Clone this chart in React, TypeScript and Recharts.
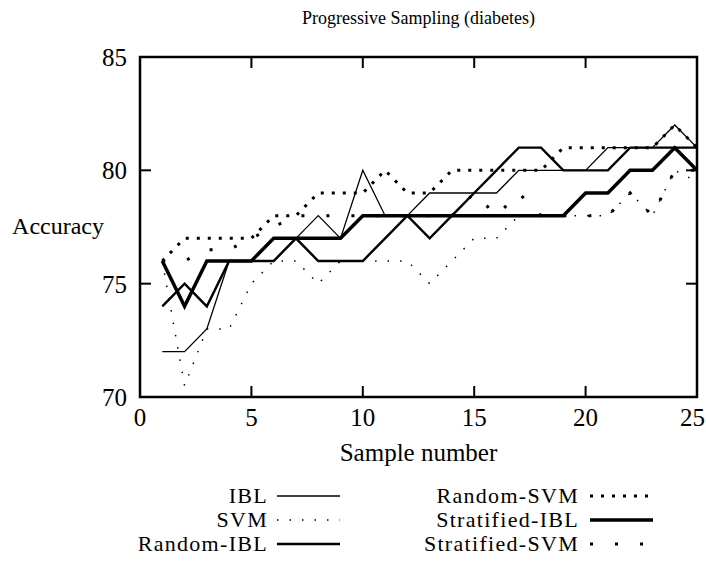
import React from 'react';
import { LineChart, Line, XAxis, YAxis, ReferenceArea, ReferenceLine, Legend } from 'recharts';

// ---- data ----
const sampleNumbers = [1, 2, 3, 4, 5, 6, 7, 8, 9, 10, 11, 12, 13, 14, 15, 16, 17, 18, 19, 20, 21, 22, 23, 24, 25];
const ibl = [72, 72, 73, 76, 76, 76, 77, 78, 77, 80, 78, 78, 79, 79, 79, 79, 80, 80, 80, 80, 81, 81, 81, 82, 81];
const svm = [76, 70.5, 73, 73, 75, 76, 76, 75, 76, 76, 76, 76, 75, 76, 77, 77, 78, 78, 78, 78, 78, 79, 78, 80, 79.5];
const randomIbl = [74, 75, 74, 76, 76, 76, 77, 76, 76, 76, 77, 78, 77, 78, 79, 80, 81, 81, 80, 80, 80, 81, 81, 81, 81];
const randomSvm = [76, 77, 77, 77, 77, 78, 78, 79, 79, 79, 80, 79, 79, 80, 80, 80, 80, 80, 81, 81, 81, 81, 81, 82, 81];
const stratifiedIbl = [76, 74, 76, 76, 76, 77, 77, 77, 77, 78, 78, 78, 78, 78, 78, 78, 78, 78, 78, 79, 79, 80, 80, 81, 80];
const stratifiedSvm = [76, 76, 76.5, 76.5, 77, 77.5, 78, 78, 78, 78, 78, 78, 78, 78, 79, 78, 79, 78, 78, 78, 78, 79, 78, 80, 80];

const xTicks = [0, 5, 10, 15, 20, 25];
const yTicks = [70, 75, 80, 85];
const xDomain: [number, number] = [0, 25];
const yDomain: [number, number] = [70, 85];

const title = 'Progressive Sampling (diabetes)';
const xLabel = 'Sample number';
const yLabel = 'Accuracy';

// ---- layout / styles ----
const W = 706;
const H = 562;
const X_AXIS_H = 30;
const Y_AXIS_W = 40;
const plotLeft = 140;
const plotTop = 57;
const plotRight = 697;
const plotBottom = 397;
const M = { top: plotTop, right: W - plotRight, bottom: H - plotBottom - X_AXIS_H, left: plotLeft - Y_AXIS_W };
const plotW = plotRight - plotLeft;
const plotH = plotBottom - plotTop;
const TICK_PX = 11;
const tickDx = (TICK_PX * (xDomain[1] - xDomain[0])) / plotW;
const tickDy = (TICK_PX * (yDomain[1] - yDomain[0])) / plotH;
const FONT = '"Liberation Serif", "Times New Roman", serif';
const AXIS_FONT = 25;

type S = { key: string; name: string; values: number[]; width: number; dash?: string };
const series: S[] = [
  { key: 'ibl', name: 'IBL', values: ibl, width: 1.3 },
  { key: 'svm', name: 'SVM', values: svm, width: 1.5, dash: '1.5 11' },
  { key: 'randomIbl', name: 'Random-IBL', values: randomIbl, width: 2.4 },
  { key: 'randomSvm', name: 'Random-SVM', values: randomSvm, width: 3, dash: '3 8' },
  { key: 'stratifiedIbl', name: 'Stratified-IBL', values: stratifiedIbl, width: 3.5 },
  { key: 'stratifiedSvm', name: 'Stratified-SVM', values: stratifiedSvm, width: 3, dash: '3 22' },
];

const data = sampleNumbers.map((x, i) => {
  const row: Record<string, number> = { x };
  series.forEach((s) => {
    row[s.key] = s.values[i];
  });
  return row;
});

const legendCols = [
  { textRight: 268, lineFrom: 277, lineTo: 340, items: ['ibl', 'svm', 'randomIbl'] },
  { textRight: 579, lineFrom: 590, lineTo: 653, items: ['randomSvm', 'stratifiedIbl', 'stratifiedSvm'] },
];
const LEGEND_TOP = 476;
const legendRowY = [20, 44, 68];
const LEGEND_FONT = 22;

const renderLegend = () => (
  <svg width={W} height={90} style={{ display: 'block' }}>
    {legendCols.map((col, ci) =>
      col.items.map((k, ri) => {
        const s = series.find((q) => q.key === k)!;
        const y = legendRowY[ri];
        return (
          <g key={`${ci}-${ri}`}>
            <text
              x={col.textRight}
              y={y + 7}
              textAnchor="end"
              fontFamily={FONT}
              fontSize={LEGEND_FONT}
              letterSpacing={1.3}
              fill="#000"
            >
              {s.name}
            </text>
            <line
              x1={col.lineFrom}
              x2={col.lineTo}
              y1={y}
              y2={y}
              stroke="#000"
              strokeWidth={s.width}
              strokeDasharray={s.dash}
            />
          </g>
        );
      })
    )}
  </svg>
);

// x tick label: keep the text inside the picture at the right edge
const XTick = (props: any) => {
  const { x, y, payload } = props;
  const label = String(payload.value);
  const half = (label.length * AXIS_FONT * 0.5) / 2;
  const cx = Math.min(x, W - half - 1);
  return (
    <text x={cx} y={y} dy="0.71em" textAnchor="middle" fontFamily={FONT} fontSize={AXIS_FONT} fill="#000">
      {label}
    </text>
  );
};

const YLabel = (props: any) => {
  const vb = props.viewBox || {};
  return (
    <text
      x={vb.x + vb.width - 36}
      y={vb.y + vb.height / 2 + 7}
      textAnchor="end"
      fontFamily={FONT}
      fontSize={AXIS_FONT - 1}
      fill="#000"
    >
      {yLabel}
    </text>
  );
};

const innerXTicks = xTicks.filter((t) => t > xDomain[0] && t < xDomain[1]);
const innerYTicks = yTicks.filter((t) => t > yDomain[0] && t < yDomain[1]);

export default function App() {
  return (
    <div style={{ position: 'absolute', left: 0, top: 0, width: W, height: H, background: '#fff' }}>
      <svg width={W} height={40} style={{ position: 'absolute', left: 0, top: 0 }}>
        <text x={(plotLeft + plotRight) / 2} y={24} textAnchor="middle" fontFamily={FONT} fontSize={18} fill="#000">
          {title}
        </text>
      </svg>
      <LineChart width={W} height={H} data={data} margin={M}>
        <XAxis
          dataKey="x"
          type="number"
          domain={xDomain}
          ticks={xTicks}
          allowDataOverflow
          height={X_AXIS_H}
          axisLine={false}
          tickLine={false}
          tickSize={0}
          tickMargin={11}
          tick={<XTick />}
          interval={0}
          label={{ value: xLabel, position: 'insideTop', offset: 46, fontSize: AXIS_FONT, fill: '#000', fontFamily: FONT }}
        />
        <YAxis
          type="number"
          domain={yDomain}
          ticks={yTicks}
          allowDataOverflow
          width={Y_AXIS_W}
          axisLine={false}
          tickLine={false}
          tickSize={0}
          tickMargin={13}
          tick={{ fontSize: AXIS_FONT, fill: '#000', fontFamily: FONT }}
          interval={0}
          label={<YLabel />}
        />
        <ReferenceArea
          x1={xDomain[0]}
          x2={xDomain[1]}
          y1={yDomain[0]}
          y2={yDomain[1]}
          fill="none"
          fillOpacity={0}
          stroke="#000"
          strokeWidth={2.5}
          ifOverflow="visible"
        />
        {innerXTicks.map((t) => (
          <ReferenceLine
            key={`xb${t}`}
            segment={[{ x: t, y: yDomain[0] }, { x: t, y: yDomain[0] + tickDy }]}
            stroke="#000"
            strokeWidth={2}
            ifOverflow="visible"
          />
        ))}
        {innerXTicks.map((t) => (
          <ReferenceLine
            key={`xt${t}`}
            segment={[{ x: t, y: yDomain[1] }, { x: t, y: yDomain[1] - tickDy }]}
            stroke="#000"
            strokeWidth={2}
            ifOverflow="visible"
          />
        ))}
        {innerYTicks.map((t) => (
          <ReferenceLine
            key={`yl${t}`}
            segment={[{ x: xDomain[0], y: t }, { x: xDomain[0] + tickDx, y: t }]}
            stroke="#000"
            strokeWidth={2}
            ifOverflow="visible"
          />
        ))}
        {innerYTicks.map((t) => (
          <ReferenceLine
            key={`yr${t}`}
            segment={[{ x: xDomain[1], y: t }, { x: xDomain[1] - tickDx, y: t }]}
            stroke="#000"
            strokeWidth={2}
            ifOverflow="visible"
          />
        ))}
        {series.map((s) => (
          <Line
            key={s.key}
            dataKey={s.key}
            name={s.name}
            type="linear"
            stroke="#000"
            strokeWidth={s.width}
            strokeDasharray={s.dash}
            strokeLinecap="butt"
            dot={false}
            activeDot={false}
            isAnimationActive={false}
          />
        ))}
        <Legend
          layout="vertical"
          align="center"
          verticalAlign="middle"
          content={renderLegend}
          wrapperStyle={{ position: 'absolute', left: 0, top: LEGEND_TOP, width: W, height: 90 }}
        />
      </LineChart>
    </div>
  );
}
